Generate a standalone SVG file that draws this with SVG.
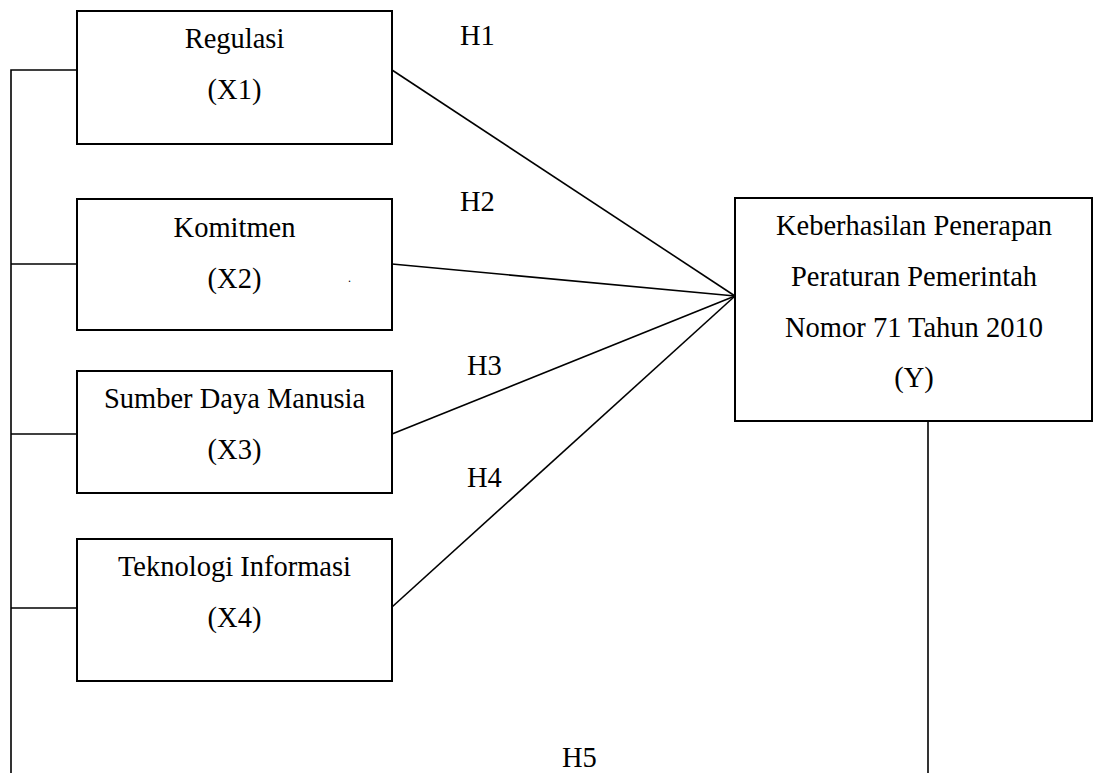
<svg xmlns="http://www.w3.org/2000/svg" width="1096" height="773" viewBox="0 0 1096 773">
<style>
.box{fill:#fff;stroke:#000;stroke-width:2}
.ln{fill:none;stroke:#000;stroke-width:1.6}
text{font-family:'Liberation Serif','Times New Roman',Times,serif;font-size:28.5px;fill:#000}
.c{text-anchor:middle}
</style>
<rect width="1096" height="773" fill="#fff"/>
<g id="connectors">
<polyline class="ln" points="77,70 11,70 11,773"/>
<line class="ln" x1="11" y1="264" x2="77" y2="264"/>
<line class="ln" x1="11" y1="434" x2="77" y2="434"/>
<line class="ln" x1="11" y1="608" x2="77" y2="608"/>
<line class="ln" x1="392" y1="70" x2="735" y2="296"/>
<line class="ln" x1="392" y1="264" x2="735" y2="296"/>
<line class="ln" x1="392" y1="434" x2="735" y2="296"/>
<line class="ln" x1="392" y1="607" x2="735" y2="296"/>
<line class="ln" x1="928" y1="421" x2="928" y2="773"/>
</g>
<g id="labels" font-family="Liberation Serif, serif">
<text x="460" y="45">H1</text>
<text x="460" y="211">H2</text>
<text x="467" y="375">H3</text>
<text x="467" y="487">H4</text>
<text x="562" y="767">H5</text>
</g>
<g id="x1">
<rect class="box" x="77" y="11" width="315" height="133"/>
<text class="c" x="234.5" y="48">Regulasi</text>
<text class="c" x="234.5" y="99">(X1)</text>
</g>
<g id="x2">
<rect class="box" x="77" y="199" width="315" height="131"/>
<text class="c" x="234.5" y="237">Komitmen</text>
<text class="c" x="234.5" y="288">(X2)</text>
<text x="348" y="282" style="font-size:12px">.</text>
</g>
<g id="x3">
<rect class="box" x="77" y="371" width="315" height="122"/>
<text class="c" x="234.5" y="408">Sumber Daya Manusia</text>
<text class="c" x="234.5" y="459">(X3)</text>
</g>
<g id="x4">
<rect class="box" x="77" y="539" width="315" height="142"/>
<text class="c" x="234.5" y="576">Teknologi Informasi</text>
<text class="c" x="234.5" y="627">(X4)</text>
</g>
<g id="y">
<rect class="box" x="735" y="198" width="357" height="223"/>
<text class="c" x="914" y="235">Keberhasilan Penerapan</text>
<text class="c" x="914" y="286">Peraturan Pemerintah</text>
<text class="c" x="914" y="337">Nomor 71 Tahun 2010</text>
<text class="c" x="914" y="387">(Y)</text>
</g>
</svg>
